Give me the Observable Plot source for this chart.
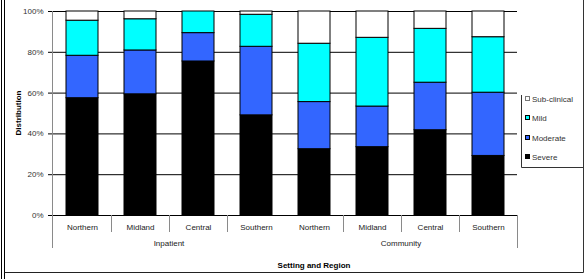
<!DOCTYPE html>
<html><head><meta charset="utf-8">
<script src="https://cdn.jsdelivr.net/npm/d3@7"></script>
<script src="https://cdn.jsdelivr.net/npm/@observablehq/plot@0.6"></script>
<style>body{margin:0;background:#fff} svg{display:block}</style>
</head><body><div id="chart"></div>
<script>
const regions = ["Northern","Midland","Central","Southern","Northern","Midland","Central","Southern"];
const settings = ["Inpatient","Inpatient","Inpatient","Inpatient","Community","Community","Community","Community"];
const severities = ["Severe","Moderate","Mild","Sub-clinical"];
const colors = ["#000000","#3366FF","#00FFFF","#FFFFFF"];
const severe      = [57.5, 59.4, 75.5, 49.1, 32.5, 33.5, 41.8, 29.2];
const moderate    = [20.8, 21.5, 13.9, 33.6, 23.1, 19.9, 23.3, 31.0];
const mild        = [17.2, 15.3, 10.6, 15.7, 28.6, 33.7, 26.4, 27.2];
const subclinical = [ 4.5,  3.8,  0.0,  1.6, 15.8, 12.9,  8.5, 12.6];
const yTicks = [0, 20, 40, 60, 80, 100];
const yTitle = "Distribution";
const xTitle = "Setting and Region";

const series = [severe, moderate, mild, subclinical];
const keys = regions.map((r, i) => settings[i] + "|" + r);
const table = [];
severities.forEach((s, j) => series[j].forEach((v, i) => table.push({key: keys[i], severity: s, value: v})));

const W = 587, H = 279, mL = 52, mR = 70, mT = 11, mB = 64;
const font = "'Liberation Sans', Arial, sans-serif";

const plot = Plot.plot({
  width: W, height: H, marginLeft: mL, marginRight: mR, marginTop: mT, marginBottom: mB,
  style: {fontFamily: font, fontSize: "8px", color: "#000", background: "#fff", overflow: "visible"},
  x: {domain: keys, paddingInner: 0.45, paddingOuter: 0.225},
  y: {domain: [0, 100]},
  color: {domain: severities, range: colors},
  marks: [
    Plot.ruleY(yTicks, {stroke: "#000", strokeWidth: 1}),
    Plot.barY(table, {x: "key", y: "value", fill: "severity", stroke: "#000", strokeWidth: 1, order: severities, inset: 0}),
    Plot.axisY({ticks: yTicks, tickSize: 4, tickPadding: 5, tickFormat: d => d + "%", fontSize: 8, fill: "#333", stroke: "#000", label: null}),
    Plot.axisX({tickSize: 0, tickPadding: 8.5, tickFormat: k => k.split("|")[1], fontSize: 8, fill: "#222", label: null})
  ]
});

const svg = d3.select(plot);
const xs = plot.scale("x");
const centers = keys.map(k => xs.apply(k) + xs.bandwidth / 2);
const y0 = H - mB;
const grey = "#8a8a8a";
const g = svg.append("g");
g.append("line").attr("x1", mL + 0.5).attr("x2", mL + 0.5).attr("y1", mT).attr("y2", 248).attr("stroke", grey);
g.append("line").attr("x1", W - mR + 0.5).attr("x2", W - mR + 0.5).attr("y1", y0).attr("y2", 248).attr("stroke", grey);
for (let i = 0; i < keys.length - 1; i++) {
  if (settings[i] !== settings[i + 1]) continue;
  const xe = Math.round((centers[i] + centers[i + 1]) / 2) + 0.5;
  g.append("line").attr("x1", xe).attr("x2", xe).attr("y1", y0).attr("y2", 232).attr("stroke", grey);
}
const groups = [...new Set(settings)];
groups.forEach(grp => {
  const idx = settings.map((s, i) => s === grp ? i : -1).filter(i => i >= 0);
  const cx = (centers[idx[0]] + centers[idx[idx.length - 1]]) / 2;
  g.append("text").attr("x", cx).attr("y", 245.5).attr("text-anchor", "middle")
    .attr("font-family", font).attr("font-size", 8).attr("fill", "#222").text(grp);
});
g.append("text").attr("x", 314).attr("y", 268).attr("text-anchor", "middle")
  .attr("font-family", font).attr("font-size", 8).attr("font-weight", "bold").attr("fill", "#000").text(xTitle);
g.append("text").attr("transform", "translate(20.5,113) rotate(-90)").attr("text-anchor", "middle")
  .attr("font-family", font).attr("font-size", 8).attr("font-weight", "bold").attr("fill", "#000").text(yTitle);
const lg = svg.append("g");
lg.append("line").attr("x1", 521.5).attr("x2", 521.5).attr("y1", 95).attr("y2", 167.5).attr("stroke", "#333");
lg.append("line").attr("x1", 521.5).attr("x2", 583.5).attr("y1", 167.5).attr("y2", 167.5).attr("stroke", "#333");
const legendOrder = [...severities].reverse();
legendOrder.forEach((s, i) => {
  const cy = 99 + i * 19.3;
  const c = colors[severities.indexOf(s)];
  lg.append("rect").attr("x", 525.5).attr("y", Math.round(cy) - 2.5).attr("width", 4).attr("height", 4)
    .attr("fill", c).attr("stroke", s === "Sub-clinical" ? "#777" : "#000").attr("stroke-width", 1);
  lg.append("text").attr("x", 532).attr("y", cy + 3).attr("text-anchor", "start").attr("font-family", font).attr("font-size", 8)
    .attr("fill", "#333").text(s);
});
const bd = svg.append("g");
bd.append("line").attr("x1", 1.5).attr("x2", 1.5).attr("y1", 0).attr("y2", H).attr("stroke", "#000");
bd.append("line").attr("x1", 4.5).attr("x2", 4.5).attr("y1", 0).attr("y2", H).attr("stroke", "#000");
bd.append("line").attr("x1", 4.5).attr("x2", 583.5).attr("y1", 272.5).attr("y2", 272.5).attr("stroke", "#222");
bd.append("line").attr("x1", 583.5).attr("x2", 583.5).attr("y1", 0).attr("y2", 272.5).attr("stroke", "#333");

document.getElementById("chart").appendChild(plot);
</script>
</body></html>
